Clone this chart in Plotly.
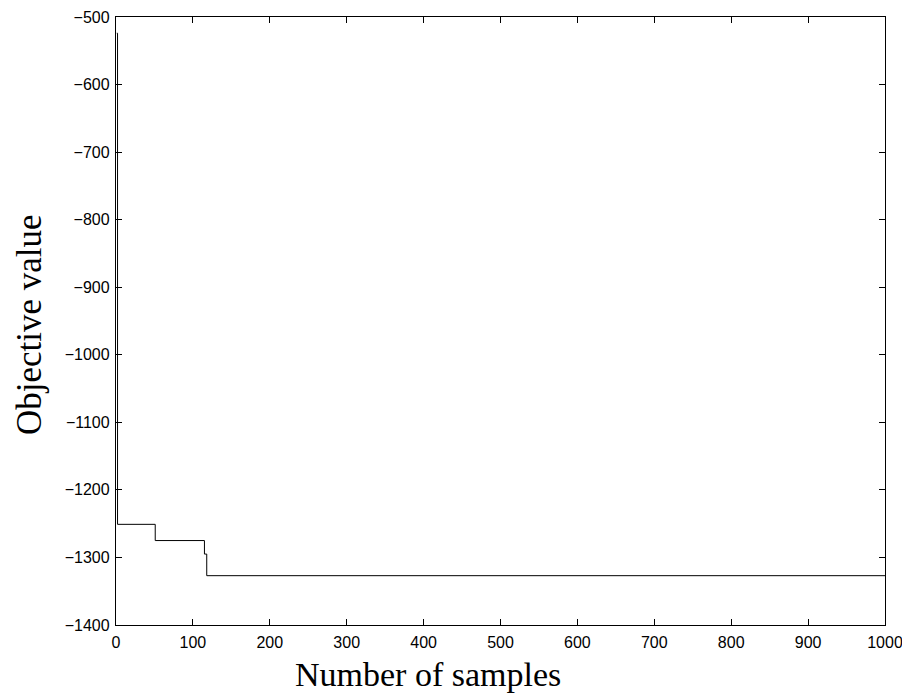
import plotly.graph_objects as go

# step points: sample index where the best objective changes, and its value
samples = [1, 2, 51, 115, 118, 1000]
objective = [-524, -1251, -1275, -1295, -1327, -1327]

x_ticks = [0, 100, 200, 300, 400, 500, 600, 700, 800, 900, 1000]
y_ticks = [-1400, -1300, -1200, -1100, -1000, -900, -800, -700, -600, -500]

x_title = "Number of samples"
y_title = "Objective value"

fig = go.Figure()
fig.add_trace(go.Scatter(
    x=samples, y=objective, mode="lines", line_shape="hv",
    line=dict(color="black", width=1), showlegend=False,
))

axis_common = dict(
    showline=True, linecolor="black", linewidth=1.3, mirror="ticks",
    ticks="inside", ticklen=6, tickcolor="black", tickwidth=1,
    showgrid=False, zeroline=False, automargin=False,
    tickfont=dict(family="Liberation Sans, Arial, sans-serif", size=16, color="black"),
)

serif = "Liberation Serif, serif"

# page body has an 8px default margin; figure is sized to fit the 910x698 window
fig.update_layout(
    width=902, height=690,
    margin=dict(l=108, r=25, t=9, b=73),
    paper_bgcolor="white", plot_bgcolor="white",
    xaxis=dict(range=[0, 1000], tickvals=x_ticks, ticklabelstandoff=3, **axis_common),
    yaxis=dict(range=[-1400, -500], tickvals=y_ticks, ticklabelstandoff=2, **axis_common),
    annotations=[
        dict(text=x_title, xref="paper", yref="paper", x=0.4057, y=-0.082,
             xanchor="center", yanchor="middle", showarrow=False,
             font=dict(family=serif, size=34, color="black")),
        dict(text=y_title, xref="paper", yref="paper", x=-0.1131, y=0.4934,
             xanchor="center", yanchor="middle", showarrow=False, textangle=-90,
             font=dict(family=serif, size=35, color="black")),
    ],
)

fig.write_html("out.html")
